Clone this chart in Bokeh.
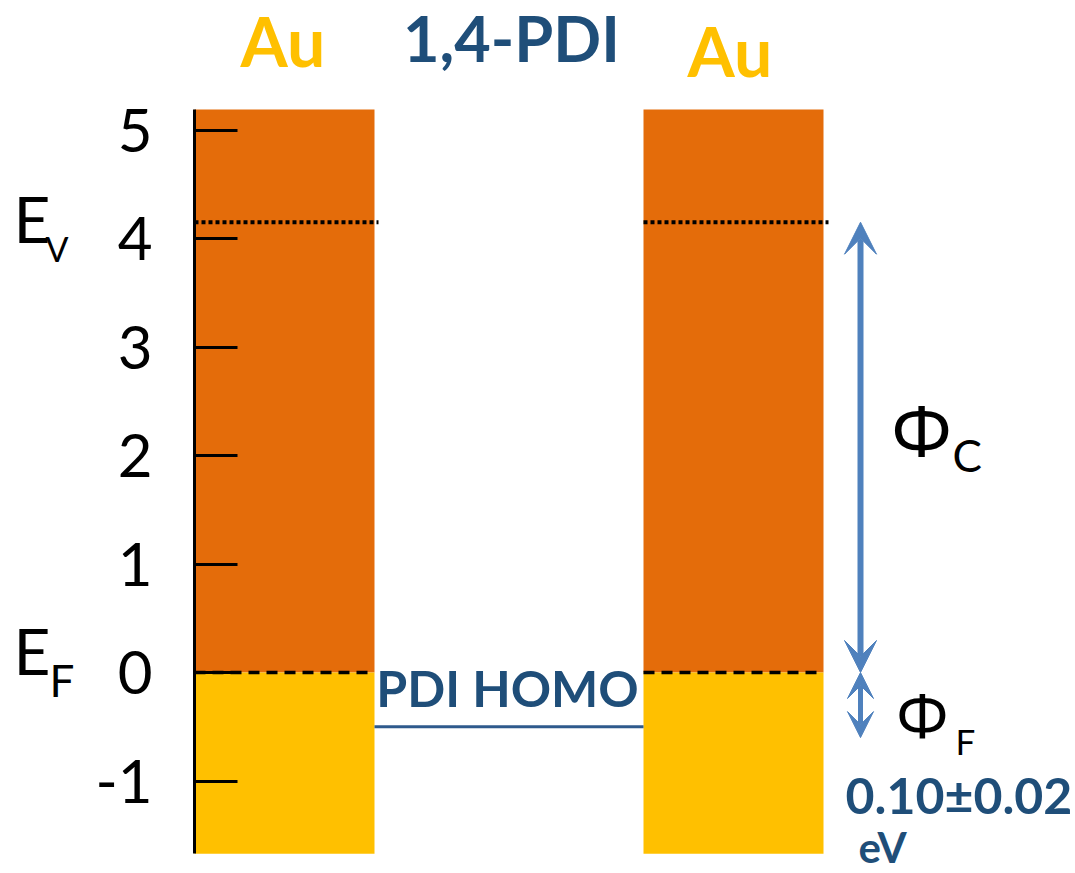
from bokeh.plotting import figure
from bokeh.models import Range1d, FixedTicker, Arrow, VeeHead
from bokeh.core.properties import value
from bokeh.embed import file_html
from bokeh.resources import INLINE

# ---- data (energies in eV) ----
tick_values = [-1, 0, 1, 2, 3, 4, 5]
tick_labels = ["-1", "0", "1", "2", "3", "4", "5"]
electrode_names = ["Au", "Au"]
molecule_name = "1,4-PDI"
band_top = 5.19          # top of the Au blocks
fermi_level = 0.0        # E_F
band_bottom = -1.67      # bottom of the Au blocks
vacuum_level = 4.15      # E_v
homo_level = -0.50       # PDI HOMO
phi_f_drawn = 0.60       # drawn length of the Phi_F marker
phi_f_text = "0.10\u00b10.02"

# ---- geometry helpers (reference pixel frame, 108.5 px per eV, 0 eV at y=672) ----
PX = 108.5
def ey(ref_y):
    return (672 - ref_y) / PX

W, H = 1075, 873
p = figure(width=W, height=H, output_backend="svg", toolbar_location=None,
           x_range=Range1d(0, W), y_range=Range1d(ey(H), ey(0)),
           x_axis_location=None, min_border=0)
p.grid.visible = False
p.outline_line_color = None
p.background_fill_color = "white"

ORANGE = "#e46c0a"
YELLOW = "#ffc000"
NAVY = "#1f4e79"
ARROW = "#4f81bd"

left_edges = [194, 643]
right_edges = [374, 823]

# Au blocks: occupied (yellow) below E_F, unoccupied (orange) above
p.quad(left=left_edges, right=right_edges, bottom=[fermi_level] * 2, top=[band_top] * 2,
       fill_color=ORANGE, line_color=None)
p.quad(left=left_edges, right=right_edges, bottom=[band_bottom] * 2, top=[fermi_level] * 2,
       fill_color=YELLOW, line_color=None)

# Fermi level dashed lines
p.segment(x0=left_edges, x1=right_edges, y0=[fermi_level] * 2, y1=[fermi_level] * 2,
          line_color="black", line_width=3.5, line_dash="11 7")
# vacuum level dotted lines
p.segment(x0=left_edges, x1=[378, 828], y0=[vacuum_level] * 2, y1=[vacuum_level] * 2,
          line_color="black", line_width=4, line_dash="4 3")
# PDI HOMO level
p.segment(x0=[374], x1=[643], y0=[homo_level], y1=[homo_level],
          line_color="#2e5a8c", line_width=3)

# y axis drawn at the left block edge
ax = p.yaxis[0]
ax.fixed_location = 194
ax.bounds = (band_bottom, band_top)
ax.ticker = FixedTicker(ticks=tick_values)
ax.major_label_overrides = dict(zip(tick_values, tick_labels))
ax.axis_line_color = "black"
ax.axis_line_width = 3
ax.major_tick_in = 43
ax.major_tick_out = 0
ax.major_tick_line_width = 3
ax.major_tick_line_color = "black"
ax.minor_tick_line_color = None
ax.major_label_standoff = 42
ax.major_label_text_font = "Lato"
ax.major_label_text_font_size = "60px"
ax.major_label_text_color = "black"

# arrows: Phi_C (E_F -> E_v) and Phi_F marker
p.add_layout(Arrow(x_start=860, y_start=fermi_level, x_end=860, y_end=vacuum_level,
                   line_color=ARROW, line_width=6,
                   start=VeeHead(size=32, fill_color=ARROW, line_color=ARROW),
                   end=VeeHead(size=32, fill_color=ARROW, line_color=ARROW)))
p.add_layout(Arrow(x_start=860, y_start=fermi_level, x_end=860, y_end=fermi_level - phi_f_drawn,
                   line_color=ARROW, line_width=5,
                   start=VeeHead(size=26, fill_color=ARROW, line_color=ARROW, line_width=1),
                   end=VeeHead(size=26, fill_color=ARROW, line_color=ARROW, line_width=1)))

def txt(x, y, s, size, color, font="Lato", bold=False, align="left"):
    p.text(x=[x], y=[y], text=[s], text_font=value(font), text_font_size=size,
           text_font_style="bold" if bold else "normal", text_color=color,
           text_align=align, text_baseline="middle")

# titles
txt(240, ey(40), electrode_names[0], "68px", YELLOW, bold=True)
txt(511, ey(37), molecule_name, "63px", NAVY, bold=True, align="center")
txt(687, ey(50), electrode_names[1], "68px", YELLOW, bold=True)

# level labels
txt(13, ey(218), "E", "64px", "black")
txt(45, ey(248), "V", "34px", "black")
txt(13, ey(650), "E", "64px", "black")
txt(49, ey(679), "F", "44px", "black")

txt(507, ey(687), "PDI HOMO", "50px", NAVY, bold=True, align="center")

txt(921, ey(428), "\u03a6", "72px", "black", font="Noto Sans", align="center")
txt(952, ey(454), "C", "44px", "black")
txt(922, ey(713), "\u03a6", "62px", "black", font="Noto Sans", align="center")
txt(955, ey(740), "F", "35px", "black")

txt(845, ey(794), phi_f_text, "50px", NAVY, bold=True)
txt(858, ey(846), "eV", "42px", NAVY, bold=True)

open("out.html", "w").write(file_html(p, INLINE))
